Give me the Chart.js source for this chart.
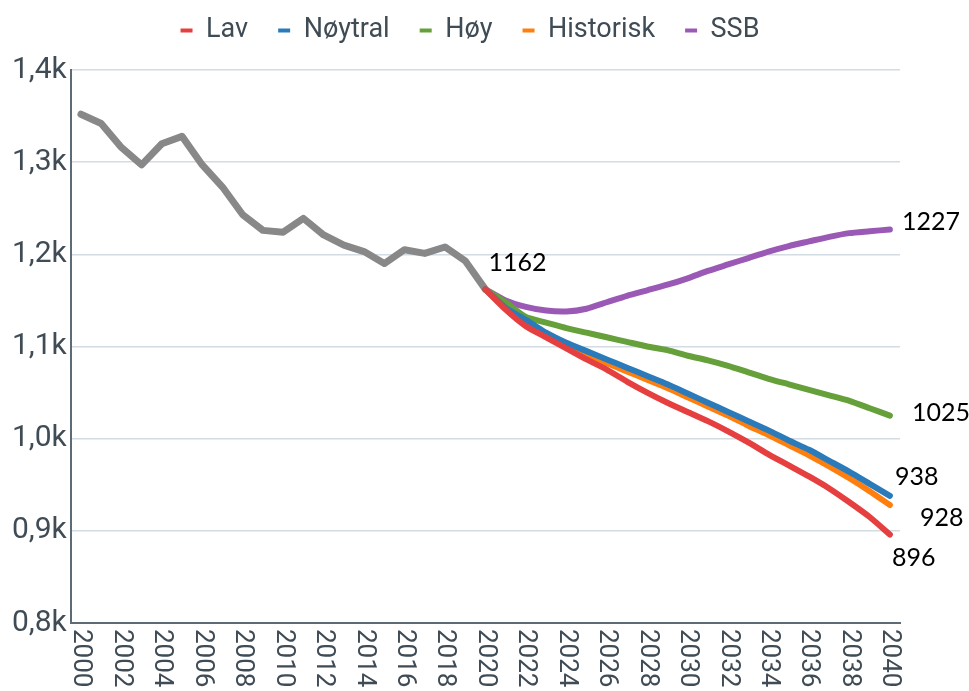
<!DOCTYPE html>
<html lang="no">
  <head>
    <meta charset="UTF-8" />
    <title>Fremskriving</title>
    <style>
      html, body { margin: 0; padding: 0; background: #fff; }
      #wrap { width: 969px; height: 691px; }
    </style>
  </head>
  <body>
    <div id="wrap"><canvas id="myChart"></canvas></div>

    <script src="https://cdn.jsdelivr.net/npm/chart.js"></script>
    <script>
      const years = [
        "2000", "2001", "2002", "2003", "2004", "2005", "2006", "2007", "2008", "2009",
        "2010", "2011", "2012", "2013", "2014", "2015", "2016", "2017", "2018", "2019",
        "2020", "2021", "2022", "2023", "2024", "2025", "2026", "2027", "2028", "2029",
        "2030", "2031", "2032", "2033", "2034", "2035", "2036", "2037", "2038", "2039",
        "2040",
      ];

      // 2000-2020
      const historikk = [1352, 1342, 1316, 1297, 1320, 1328, 1297, 1273, 1243, 1226,
        1224, 1239, 1221, 1210, 1203, 1190, 1205, 1201, 1208, 1193, 1162];

      // 2020-2040
      const lav = [1162, 1140, 1122, 1110, 1098, 1086, 1075, 1062, 1050, 1039,
        1029, 1019, 1008, 996, 983, 971, 959, 946, 931, 915, 896];
      const noytral = [1162, 1142, 1129, 1115, 1104, 1095, 1086, 1077, 1068, 1059,
        1049, 1039, 1029, 1019, 1009, 998, 988, 976, 964, 951, 938];
      const hoy = [1162, 1148, 1132, 1126, 1120, 1115, 1110, 1105, 1100, 1096,
        1090, 1085, 1079, 1072, 1065, 1059, 1053, 1047, 1041, 1033, 1025];
      const historisk = [1162, 1142, 1128, 1114, 1102, 1092, 1082, 1073, 1064, 1055,
        1045, 1035, 1025, 1014, 1004, 993, 982, 970, 957, 943, 928];
      const ssb = [1162, 1150, 1143, 1139, 1138, 1141, 1148, 1155, 1161, 1167,
        1174, 1182, 1189, 1196, 1203, 1209, 1214, 1219, 1223, 1225, 1227];

      // text labels at line ends: [dataset index, year, text]
      const endLabels = [
        [5, "2020", "1162"],
        [4, "2040", "1227"],
        [2, "2040", "1025"],
        [1, "2040", "938"],
        [3, "2040", "928"],
        [0, "2040", "896"],
      ];
      // pixel offsets from the point (left x, baseline y)
      const endOffsets = [[3, -18], [12, 1], [22, 5], [5, -11], [30, 21], [2, 31]];

      const pad = (arr) => years.map((y, i) => (i < 20 ? null : arr[i - 20]));
      const textColor = "#3f4b55";

      function line(label, data, color, extra) {
        return Object.assign({
          label: label,
          data: data,
          borderColor: color,
          backgroundColor: color,
          borderWidth: 6,
          pointRadius: 0,
          borderCapStyle: "round",
          borderJoinStyle: "round",
          tension: 0.2,
          fill: false,
        }, extra || {});
      }

      // legend: extra space below, nudged right
      const legendSpace = {
        id: "legendSpace",
        beforeInit(chart) {
          const fit = chart.legend.fit;
          chart.legend.fit = function () {
            fit.bind(chart.legend)();
            this.height += 16;
          };
        },
        afterLayout(chart) {
          chart.legend.left += 16;
          chart.legend.right += 16;
        },
      };

      const yearTicks = {
        id: "yearTicks",
        afterDraw(chart) {
          const ctx = chart.ctx;
          const xs = chart.scales.x;
          ctx.save();
          ctx.fillStyle = textColor;
          ctx.font = "26px Roboto";
          ctx.textAlign = "left";
          ctx.textBaseline = "middle";
          years.forEach((y, i) => {
            if (i % 2 !== 0) return;
            ctx.save();
            ctx.translate(xs.getPixelForValue(i), chart.chartArea.bottom + 6);
            ctx.rotate(Math.PI / 2);
            ctx.fillText(y, 0, 0);
            ctx.restore();
          });

          // end labels
          ctx.fillStyle = "#000";
          ctx.font = "25px Lato";
          ctx.textBaseline = "alphabetic";
          endLabels.forEach((l, k) => {
            const ds = chart.data.datasets[l[0]];
            const i = years.indexOf(l[1]);
            const px = xs.getPixelForValue(i);
            const py = chart.scales.y.getPixelForValue(ds.data[i]);
            ctx.fillText(l[2], px + endOffsets[k][0], py + endOffsets[k][1]);
          });
          ctx.restore();
        },
      };

      new Chart(document.getElementById("myChart"), {
        type: "line",
        data: {
          labels: years,
          datasets: [
            line("Lav", pad(lav), "#e5403f"),
            line("Nøytral", pad(noytral), "#2b7bba"),
            line("Høy", pad(hoy), "#65a03a"),
            line("Historisk", pad(historisk), "#ff7f0e"),
            line("SSB", pad(ssb), "#9b59b6"),
            line("", historikk, "#888888", { borderWidth: 7, tension: 0 }),
          ],
        },
        options: {
          responsive: true,
          maintainAspectRatio: false,
          animation: false,
          layout: {
            padding: { top: -13, right: 69, bottom: 60, left: 8 },
          },
          plugins: {
            tooltip: { enabled: false },
            legend: {
              position: "top",
              labels: {
                generateLabels: (chart) =>
                  Chart.defaults.plugins.legend.labels
                    .generateLabels(chart)
                    .filter((item) => item.datasetIndex < 5)
                    .map((item) => Object.assign(item, { lineWidth: 0 })),
                boxWidth: 12,
                boxHeight: 4,
                padding: 30,
                color: textColor,
                font: { family: "Roboto", size: 27 },
              },
            },
          },
          scales: {
            x: {
              type: "category",
              offset: true,
              grid: { display: false },
              border: { display: true, color: "#5d6b76", width: 2 },
              ticks: { display: false },
            },
            y: {
              min: 800,
              max: 1400,
              grid: { color: "#d3dbe3", lineWidth: 1.5, drawTicks: false },
              border: { display: true, color: "#5d6b76", width: 2 },
              ticks: {
                stepSize: 100,
                padding: 4,
                color: textColor,
                font: { family: "Roboto", size: 30 },
                callback: (v) => (v / 1000).toFixed(1).replace(".", ",") + "k",
              },
            },
          },
        },
        plugins: [legendSpace, yearTicks],
      });
    </script>
  </body>
</html>
